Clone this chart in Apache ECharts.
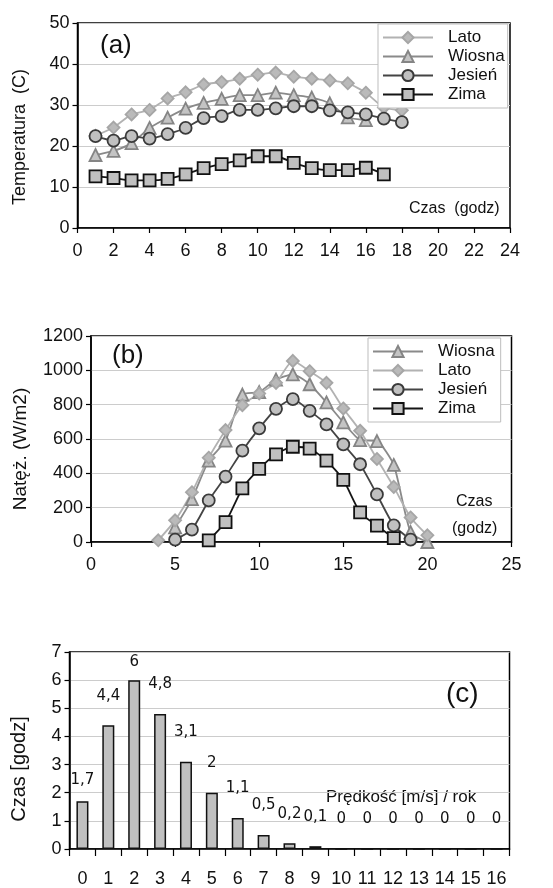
<!DOCTYPE html>
<html><head><meta charset="utf-8">
<script src="https://cdn.jsdelivr.net/npm/echarts@6/dist/echarts.min.js"></script>
<style>html,body{margin:0;padding:0;background:#fff}#c{width:553px;height:888px}</style>
</head><body><div id="c"></div>
<script>
// ---- Chart (a): temperature ----
const hoursA18 = [1,2,3,4,5,6,7,8,9,10,11,12,13,14,15,16,17,18];
const hoursA16 = [1,2,3,4,5,6,7,8,9,10,11,12,13,14,15,16];
const hoursA17 = [1,2,3,4,5,6,7,8,9,10,11,12,13,14,15,16,17];
const tempLato   = [22.5,24.5,27.7,28.8,31.6,33.1,35.0,35.6,36.4,37.4,37.9,36.9,36.4,36.0,35.3,33.0,29.4,28.7];
const tempWiosna = [17.8,18.8,20.7,24.4,26.9,29.1,30.5,31.5,32.4,32.4,33.0,32.4,31.8,30.4,27.0,26.3];
const tempJesien = [22.4,21.3,22.4,21.8,22.9,24.4,26.8,27.3,28.8,28.8,29.2,29.7,29.7,28.7,28.2,27.7,26.7,25.8];
const tempZima   = [12.6,12.2,11.6,11.6,12.0,13.1,14.6,15.6,16.5,17.5,17.5,15.9,14.6,14.1,14.1,14.7,13.1];

// ---- Chart (b): irradiance ----
const hoursBWiosna = [5,6,7,8,9,10,11,12,13,14,15,16,17,18,19,20];
const irrWiosna    = [85,250,474,590,859,873,946,977,919,813,697,594,588,449,58,0];
const hoursBLato   = [4,5,6,7,8,9,10,11,12,13,14,15,16,17,18,19,20];
const irrLato      = [10,126,290,491,652,797,865,927,1055,995,927,778,648,484,321,143,39];
const hoursBJesien = [5,6,7,8,9,10,11,12,13,14,15,16,17,18,19];
const irrJesien    = [14,72,242,381,532,662,776,832,764,685,569,453,277,97,14];
const hoursBZima   = [7,8,9,10,11,12,13,14,15,16,17,18];
const irrZima      = [10,116,312,426,511,555,544,474,362,172,95,23];

// ---- Chart (c): wind speed histogram ----
const speedCats = ['0','1','2','3','4','5','6','7','8','9','10','11','12','13','14','15','16'];
const speedHours = [1.7,4.4,6,4.8,3.1,2,1.1,0.5,0.2,0.1,0,0,0,0,0,0,0];

const FONT = 'Liberation Sans';
const pair = (xs, ys) => xs.map((x, i) => [x, ys[i]]);

const styles = {
  'Lato':   {line:'#b2b2b2', fill:'#bababa', border:'#a6a6a6', symbol:'diamond', size:12},
  'Wiosna': {line:'#8a8a8a', fill:'#c4c4c4', border:'#858585', symbol:'triangle', size:12},
  'Jesień': {line:'#444444', fill:'#c0c0c0', border:'#3a3a3a', symbol:'circle', size:12},
  'Zima':   {line:'#151515', fill:'#c0c0c0', border:'#111111', symbol:'rect', size:12}
};
function lineSeries(name, data, axisIdx) {
  const s = styles[name];
  return {
    type:'line', name, data, xAxisIndex:axisIdx, yAxisIndex:axisIdx,
    smooth:0.2, symbol:s.symbol, symbolSize:s.size,
    lineStyle:{color:s.line, width:1.8},
    itemStyle:{color:s.fill, borderColor:s.border, borderWidth:1.8},
    emphasis:{disabled:true}, animation:false
  };
}

const axisLbl = {fontFamily:FONT, fontSize:18, color:'#111'};
const valX = (idx, max, interval) => ({
  type:'value', gridIndex:idx, min:0, max, interval,
  axisLine:{show:true, lineStyle:{color:'#000', width:1.5}},
  axisTick:{show:true, inside:false, length:5, lineStyle:{color:'#000', width:1.2}},
  splitLine:{show:false},
  axisLabel:Object.assign({margin:14}, axisLbl)
});
const valY = (idx, max, interval) => ({
  type:'value', gridIndex:idx, min:0, max, interval,
  axisLine:{show:true, lineStyle:{color:'#000', width:1.5}},
  axisTick:{show:true, inside:false, length:5, lineStyle:{color:'#000', width:1.2}},
  splitLine:{show:true, lineStyle:{color:'#cccccc', width:1}},
  axisLabel:Object.assign({margin:8, formatter:v => String(v)}, axisLbl)
});

const labelDist = [14,22,11,22,22,22,22,22,22,22,22,22,22,22,22,22,22];

const legendBase = {
  orient:'vertical', itemWidth:50, itemHeight:14, itemGap:2,
  backgroundColor:'#fff', borderColor:'#bdbdbd', borderWidth:1,
  padding:[5,3,5,4],
  textStyle:{fontFamily:FONT, fontSize:17, color:'#111', padding:[0,0,0,10], lineHeight:16},
  selectedMode:false
};

const vText = (x, y, text, fs) => ({
  type:'text', x, y, rotation:Math.PI / 2,
  style:{text, font:fs + 'px "Liberation Sans"', fill:'#111', align:'center', verticalAlign:'middle'}
});

const chart = echarts.init(document.getElementById('c'), null, {renderer:'canvas'});
chart.setOption({
  animation:false,
  backgroundColor:'#fff',
  grid:[
    {left:77.5, right:43, top:23, height:205, show:true, borderColor:'#000', borderWidth:1.5},
    {left:91, right:41.5, top:336, height:206, show:true, borderColor:'#000', borderWidth:1.5},
    {left:69.5, right:43.5, top:652, height:199, show:true, borderColor:'#000', borderWidth:1.5}
  ],
  xAxis:[
    valX(0, 24, 2),
    valX(1, 25, 5),
    {type:'category', gridIndex:2, data:speedCats, boundaryGap:true,
     axisLine:{show:true, lineStyle:{color:'#000', width:1.5}},
     axisTick:{show:true, interval:0, length:7, lineStyle:{color:'#000', width:1.2}},
     axisLabel:Object.assign({margin:21, interval:0}, axisLbl)}
  ],
  yAxis:[
    valY(0, 50, 10),
    valY(1, 1200, 200),
    valY(2, 7, 1)
  ],
  legend:[
    Object.assign({}, legendBase, {left:378, top:24, data:['Lato','Wiosna','Jesień','Zima']}),
    Object.assign({}, legendBase, {left:368, top:338, padding:[5,6,5,4], data:['Wiosna','Lato','Jesień','Zima']})
  ],
  series:[
    lineSeries('Lato', pair(hoursA18, tempLato), 0),
    lineSeries('Wiosna', pair(hoursA16, tempWiosna), 0),
    lineSeries('Jesień', pair(hoursA18, tempJesien), 0),
    lineSeries('Zima', pair(hoursA17, tempZima), 0),
    lineSeries('Wiosna', pair(hoursBWiosna, irrWiosna), 1),
    lineSeries('Lato', pair(hoursBLato, irrLato), 1),
    lineSeries('Jesień', pair(hoursBJesien, irrJesien), 1),
    lineSeries('Zima', pair(hoursBZima, irrZima), 1),
    {type:'bar', name:'Prędkość', xAxisIndex:2, yAxisIndex:2, barWidth:12,
     data:speedHours.map((v, i) => ({value:v, label:{distance:labelDist[i]}})),
     itemStyle:{color:'#c0c0c0', borderColor:'#111', borderWidth:1.5},
     label:{show:true, position:'top', fontFamily:'DejaVu Sans', fontSize:15, color:'#111',
            formatter:p => String(p.value).replace('.', ',')},
     emphasis:{disabled:true}}
  ],
  graphic:[
    vText(20, 137, 'Temperatura  (C)', 18),
    vText(21, 449, 'Natęż. (W/m2)', 19),
    vText(19, 769, 'Czas [godz]', 20),
    {type:'text', left:100, top:33, style:{text:'(a)', font:'26px "Liberation Sans"', fill:'#111'}},
    {type:'text', left:409, top:201, style:{text:'Czas  (godz)', font:'16px "Liberation Sans"', fill:'#111'}},
    {type:'text', left:112, top:343, style:{text:'(b)', font:'26px "Liberation Sans"', fill:'#111'}},
    {type:'text', left:456, top:494, style:{text:'Czas', font:'16px "Liberation Sans"', fill:'#111'}},
    {type:'text', left:452, top:521, style:{text:'(godz)', font:'16px "Liberation Sans"', fill:'#111'}},
    {type:'text', left:446, top:680, style:{text:'(c)', font:'28px "Liberation Sans"', fill:'#111'}},
    {type:'text', left:326, top:789, style:{text:'Prędkość [m/s] / rok', font:'17px "Liberation Sans"', fill:'#111'}}
  ]
});
</script></body></html>
